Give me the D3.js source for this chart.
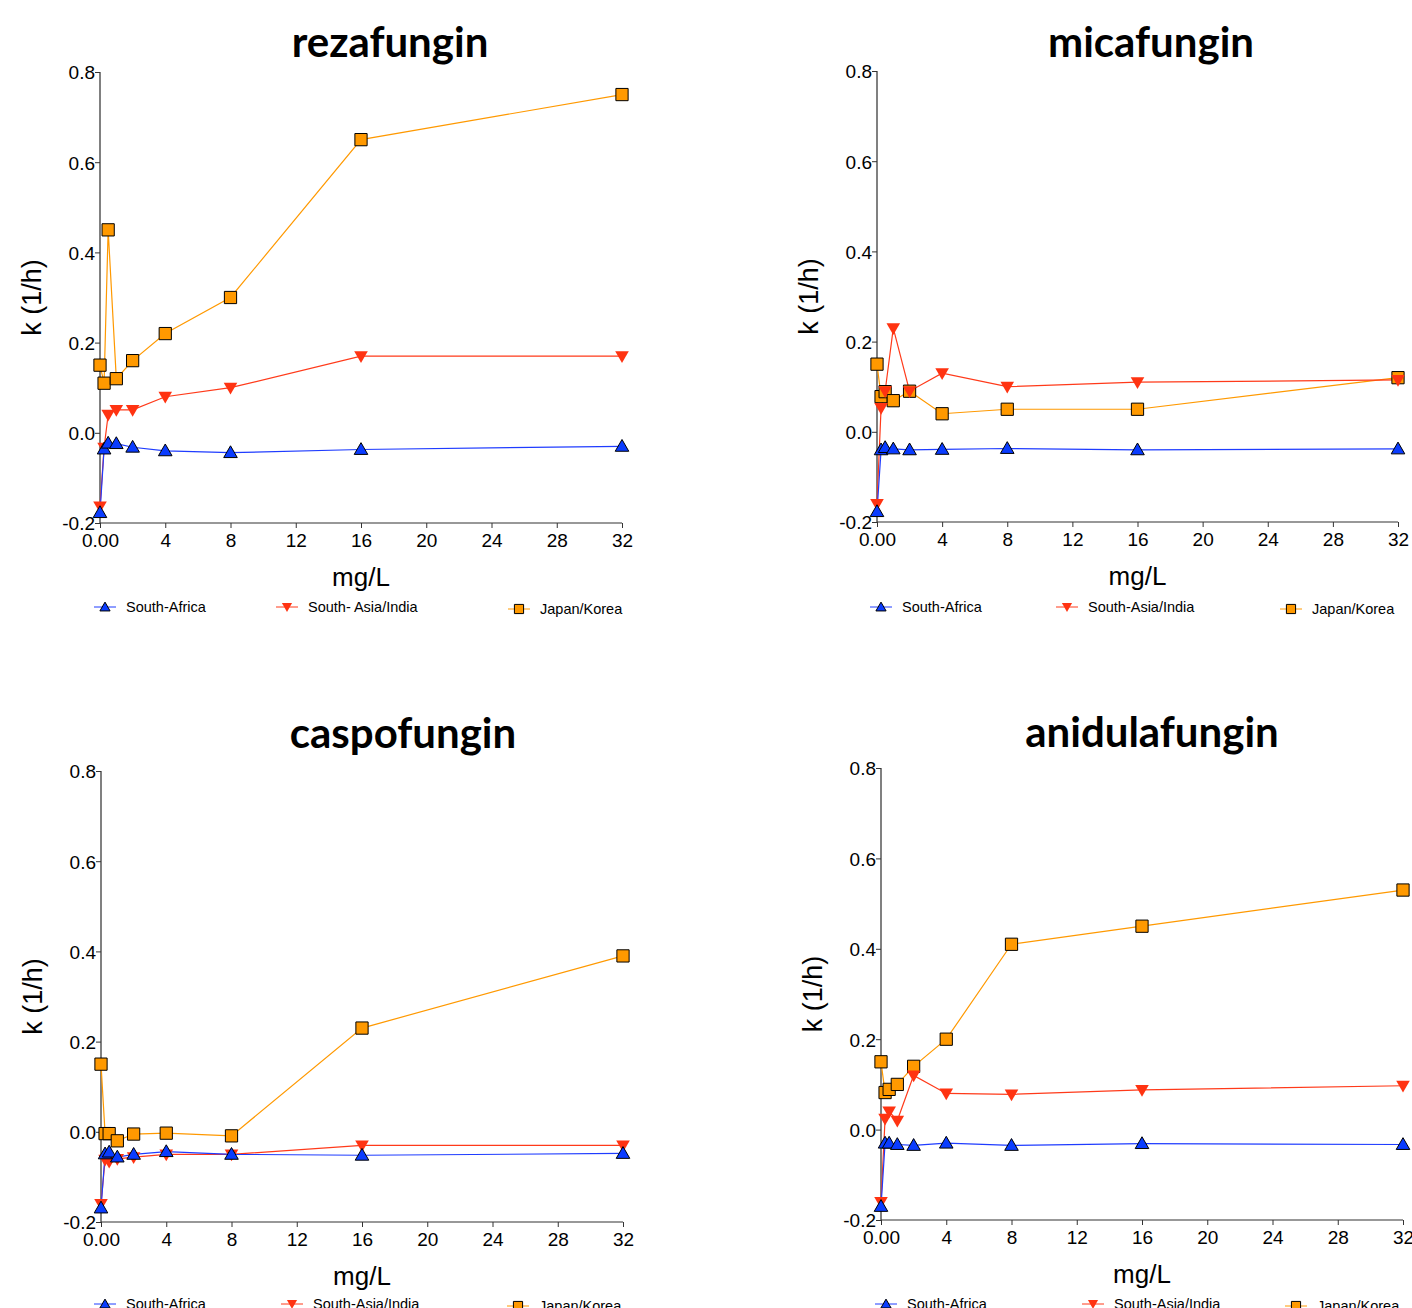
<!DOCTYPE html>
<html>
<head>
<meta charset="utf-8">
<script src="https://cdn.jsdelivr.net/npm/d3@7"></script>
<style>
  body { margin: 0; background: #fff; }
  svg { display: block; }
</style>
</head>
<body>
<script>
// doses (mg/L)
const doses = [0, 0.25, 0.5, 1, 2, 4, 8, 16, 32];
const seriesNames = ['South-Africa', 'South-Asia/India', 'Japan/Korea'];
const xTicks = [0, 4, 8, 12, 16, 20, 24, 28, 32];
const yTicks = [-0.2, 0, 0.2, 0.4, 0.6, 0.8];

// k (1/h)
const rezaAfrica = [-0.177, -0.036, -0.023, -0.024, -0.032, -0.04, -0.044, -0.037, -0.03];
const rezaAsia = [-0.163, -0.033, 0.04, 0.051, 0.051, 0.08, 0.10, 0.17, 0.17];
const rezaJapan = [0.15, 0.11, 0.45, 0.12, 0.16, 0.22, 0.30, 0.65, 0.75];

const micaAfrica = [-0.177, -0.04, -0.035, -0.038, -0.04, -0.039, -0.037, -0.04, -0.038];
const micaAsia = [-0.16, 0.053, 0.09, 0.23, 0.09, 0.13, 0.10, 0.11, 0.115];
const micaJapan = [0.15, 0.078, 0.089, 0.069, 0.09, 0.04, 0.05, 0.05, 0.12];

const caspoAfrica = [-0.169, -0.049, -0.045, -0.056, -0.05, -0.044, -0.05, -0.052, -0.048];
const caspoAsia = [-0.16, -0.062, -0.066, -0.06, -0.056, -0.05, -0.05, -0.03, -0.03];
const caspoJapan = [0.15, -0.004, -0.004, -0.02, -0.005, -0.003, -0.009, 0.23, 0.39];

const aniAfrica = [-0.17, -0.03, -0.03, -0.033, -0.035, -0.03, -0.035, -0.031, -0.033];
const aniAsia = [-0.16, 0.024, 0.04, 0.02, 0.12, 0.08, 0.078, 0.088, 0.097];
const aniJapan = [0.15, 0.082, 0.089, 0.10, 0.14, 0.20, 0.41, 0.45, 0.53];

const panels = [
  { title: 'rezafungin', data: [rezaAfrica, rezaAsia, rezaJapan], x0: 100, x1: 622, y0: 72, y1: 523, tx: 390, ty: 57,
    legend: ['South-Africa', 'South- Asia/India', 'Japan/Korea'], lx: [105, 287, 519], ly: 607 },
  { title: 'micafungin', data: [micaAfrica, micaAsia, micaJapan], x0: 877, x1: 1398, y0: 71, y1: 522, tx: 1151, ty: 57,
    legend: seriesNames, lx: [881, 1067, 1291], ly: 607 },
  { title: 'caspofungin', data: [caspoAfrica, caspoAsia, caspoJapan], x0: 101, x1: 623, y0: 771, y1: 1222, tx: 403, ty: 748,
    legend: seriesNames, lx: [105, 292, 518], ly: 1304 },
  { title: 'anidulafungin', data: [aniAfrica, aniAsia, aniJapan], x0: 881, x1: 1403, y0: 768, y1: 1220, tx: 1152, ty: 747,
    legend: seriesNames, lx: [886, 1093, 1296], ly: 1304 }
];

const lineColors = ['#1f3cff', '#ff3a1a', '#ff9900'];
const fillColors = ['#0a3cff', '#ff3311', '#ff9900'];

const width = 1412, height = 1308;
const svg = d3.select('body').append('svg').attr('width', width).attr('height', height);

function marker(g, i, x, y, small) {
  const k = small ? 0.75 : 1;
  if (i === 0) {
    g.append('path').attr('d', d3.symbol().type(d3.symbolTriangle).size(80 * k * k)())
      .attr('transform', `translate(${x},${y + 1})`)
      .attr('fill', fillColors[0]).attr('stroke', '#000').attr('stroke-width', 1);
  } else if (i === 1) {
    g.append('path').attr('d', d3.symbol().type(d3.symbolTriangle).size(80 * k * k)())
      .attr('transform', `translate(${x},${y - 1}) rotate(180)`)
      .attr('fill', fillColors[1]);
  } else {
    g.append('path').attr('d', d3.symbol().type(d3.symbolSquare).size(150 * k * k)())
      .attr('transform', `translate(${x},${y})`)
      .attr('fill', fillColors[2]).attr('stroke', '#000').attr('stroke-width', 1);
  }
}

const fmtY = (d) => d3.format('.1f')(d).replace('\u2212', '-');

panels.forEach((p) => {
  const x = d3.scaleLinear().domain([0, 32]).range([p.x0, p.x1]);
  const y = d3.scaleLinear().domain([-0.2, 0.8]).range([p.y1, p.y0]);
  const g = svg.append('g');

  // title
  g.append('text').attr('x', p.tx).attr('y', p.ty).attr('text-anchor', 'middle')
    .style('font-family', 'Lato, "Open Sans", sans-serif').style('font-weight', 'bold')
    .style('font-size', '42px').text(p.title);

  // y axis
  const ya = g.append('g').attr('transform', `translate(${p.x0},0)`)
    .call(d3.axisLeft(y).tickValues(yTicks).tickSize(5).tickFormat(fmtY));
  ya.select('.domain').attr('stroke', '#808080').attr('stroke-width', 2).attr('d', `M0,${p.y0}V${p.y1}`);
  ya.selectAll('.tick line').attr('stroke', '#333');
  ya.selectAll('.tick text').style('font-family', 'Liberation Sans, Arial, sans-serif')
    .style('font-size', '19px').attr('fill', '#000').attr('x', -5).attr('dy', '0.36em');

  // x axis
  const xa = g.append('g').attr('transform', `translate(0,${p.y1})`)
    .call(d3.axisBottom(x).tickValues(xTicks).tickSize(5).tickFormat((d) => (d === 0 ? '0.00' : d)));
  xa.select('.domain').attr('stroke', '#333').attr('stroke-width', 1.2).attr('d', `M${p.x0},0H${p.x1}`);
  xa.selectAll('.tick line').attr('stroke', '#333');
  xa.selectAll('.tick text').style('font-family', 'Liberation Sans, Arial, sans-serif')
    .style('font-size', '19px').attr('fill', '#000').attr('y', 11);

  // axis titles
  g.append('text').attr('x', (p.x0 + p.x1) / 2).attr('y', p.y1 + 63).attr('text-anchor', 'middle')
    .style('font-family', 'Liberation Sans, Arial, sans-serif').style('font-size', '26px').text('mg/L');
  const cy = (p.y0 + p.y1) / 2;
  g.append('text').attr('transform', `translate(${p.x0 - 59},${cy}) rotate(-90)`).attr('text-anchor', 'middle')
    .style('font-family', 'Liberation Sans, Arial, sans-serif').style('font-size', '27px').text('k (1/h)');

  // lines and markers
  const line = d3.line().x((d, j) => x(doses[j])).y((d) => y(d));
  [2, 1, 0].forEach((i) => {
    g.append('path').datum(p.data[i]).attr('d', line).attr('fill', 'none')
      .attr('stroke', lineColors[i]).attr('stroke-width', 1.2);
  });
  [2, 1, 0].forEach((i) => {
    p.data[i].forEach((v, j) => marker(g, i, x(doses[j]), y(v), false));
  });

  // legend
  p.legend.forEach((name, i) => {
    const lx = p.lx[i], ly = p.ly + (i === 2 ? 2 : 0);
    g.append('line').attr('x1', lx - 11).attr('x2', lx + 11).attr('y1', ly).attr('y2', ly)
      .attr('stroke', lineColors[i]).attr('stroke-width', 1);
    marker(g, i, lx, ly, true);
    g.append('text').attr('x', lx + 21).attr('y', ly + 5)
      .style('font-family', 'Liberation Sans, Arial, sans-serif').style('font-size', '14.5px').text(name);
  });
});
</script>
</body>
</html>
